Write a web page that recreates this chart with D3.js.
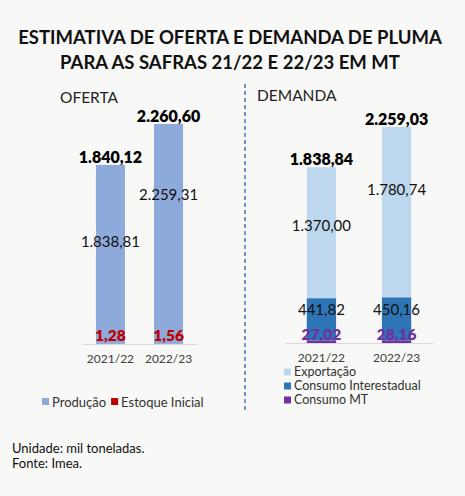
<!DOCTYPE html>
<html><head><meta charset="utf-8">
<script src="https://cdn.jsdelivr.net/npm/d3@7"></script>
<style>
html,body{margin:0;padding:0;background:#f8f8f6;}
svg{display:block;font-family:Lato, "Open Sans", sans-serif;}
</style></head>
<body>
<svg id="c" width="465" height="496"></svg>
<script>
// ---- data ----
const years = ["2021/22", "2022/23"];
const producao = [1838.81, 2259.31];
const estoqueInicial = [1.28, 1.56];
const ofertaTotal = [1840.12, 2260.60];
const consumoMT = [27.02, 28.16];
const consumoInterestadual = [441.82, 450.16];
const exportacao = [1370.00, 1780.74];
const demandaTotal = [1838.84, 2259.03];
const ofertaLabels = ["1,28", "1,56"];
const producaoLabels = ["1.838,81", "2.259,31"];
const ofertaTotalLabels = ["1.840,12", "2.260,60"];
const mtLabels = ["27,02", "28,16"];
const interLabels = ["441,82", "450,16"];
const exportLabels = ["1.370,00", "1.780,74"];
const demandaTotalLabels = ["1.838,84", "2.259,03"];

const svg = d3.select("#c");
const fmtFont = "Lato, 'Open Sans', sans-serif";

// title
svg.append("text").attr("x", 230).attr("y", 44).attr("text-anchor", "middle")
  .attr("font-size", 18.5).attr("font-weight", 700).attr("fill", "#111")
  .text("ESTIMATIVA DE OFERTA E DEMANDA DE PLUMA");
svg.append("text").attr("x", 230).attr("y", 69).attr("text-anchor", "middle")
  .attr("font-size", 18.5).attr("font-weight", 700).attr("fill", "#111")
  .text("PARA AS SAFRAS 21/22 E 22/23 EM MT");

// ---------- OFERTA ----------
const xL = d3.scaleBand().domain(years).range([82, 197]).paddingInner(0.5).paddingOuter(0.24);
const yL = d3.scaleLinear().domain([0, 2260.60]).range([344, 124]);

svg.append("text").attr("x", 60).attr("y", 103).attr("font-size", 15.5).attr("fill", "#222").text("OFERTA");

const gL = svg.append("g");
years.forEach((yr, i) => {
  const base = estoqueInicial[i];
  gL.append("rect").attr("x", xL(yr)).attr("width", xL.bandwidth())
    .attr("y", yL(base)).attr("height", yL(0) - yL(base)).attr("fill", "#c00000");
  gL.append("rect").attr("x", xL(yr)).attr("width", xL.bandwidth())
    .attr("y", yL(base + producao[i])).attr("height", yL(base) - yL(base + producao[i])).attr("fill", "#8eaadb");
});
svg.append("g").attr("transform", `translate(0,${yL(0)})`)
  .call(d3.axisBottom(xL).tickSize(0).tickPadding(10))
  .call(g => g.select(".domain").attr("stroke", "#d9d9d9").attr("stroke-width", 1.2))
  .call(g => g.selectAll("text").attr("font-size", 12).attr("fill", "#404040").attr("font-family", fmtFont));

const prodFrac = [0.57, 0.68];
years.forEach((yr, i) => {
  const cx = xL(yr) + xL.bandwidth() / 2;
  svg.append("text").attr("x", cx).attr("y", yL(ofertaTotal[i]) - 2).attr("text-anchor", "middle")
    .attr("font-size", 16).attr("font-weight", 800).attr("fill", "#000").text(ofertaTotalLabels[i]);
  svg.append("text").attr("x", cx).attr("y", yL(estoqueInicial[i] + producao[i] * prodFrac[i])).attr("dy", "0.35em")
    .attr("text-anchor", "middle").attr("font-size", 15).attr("fill", "#111").text(producaoLabels[i]);
  svg.append("text").attr("x", cx).attr("y", yL(0) - 3).attr("text-anchor", "middle")
    .attr("font-size", 15.5).attr("font-weight", 800).attr("fill", "#c00000").text(ofertaLabels[i]);
});

// legend left
const legL = [["Produção", "#8eaadb"], ["Estoque Inicial", "#c00000"]];
let lx = 42;
legL.forEach(([t, c]) => {
  svg.append("rect").attr("x", lx).attr("y", 398).attr("width", 7).attr("height", 7).attr("fill", c);
  const tx = svg.append("text").attr("x", lx + 10).attr("y", 406.5).attr("font-size", 13).attr("fill", "#333").text(t);
  lx += 10 + tx.node().getComputedTextLength() + 5;
});

// divider
svg.append("line").attr("x1", 245).attr("x2", 245).attr("y1", 84).attr("y2", 412)
  .attr("stroke", "#4472c4").attr("stroke-width", 1.5).attr("stroke-dasharray", "4,3");

// ---------- DEMANDA ----------
const xR = d3.scaleBand().domain(years).range([285, 433]).paddingInner(0.61).paddingOuter(0.29);
const yR = d3.scaleLinear().domain([0, 2259.03]).range([343, 127]);

svg.append("text").attr("x", 257).attr("y", 101).attr("font-size", 15.5).attr("fill", "#222").text("DEMANDA");

const colors = ["#7030a0", "#2e75b6", "#bdd7ee"];
const keys = ["mt", "inter", "exp"];
const rows = years.map((yr, i) => ({yr, mt: consumoMT[i], inter: consumoInterestadual[i], exp: exportacao[i]}));
const stacked = d3.stack().keys(keys)(rows);
const gR = svg.append("g");
stacked.forEach((s, k) => {
  gR.selectAll(null).data(s).enter().append("rect")
    .attr("x", d => xR(d.data.yr)).attr("width", xR.bandwidth())
    .attr("y", d => yR(d[1])).attr("height", d => yR(d[0]) - yR(d[1]))
    .attr("fill", colors[k]);
});
svg.append("g").attr("transform", `translate(0,${yR(0)})`)
  .call(d3.axisBottom(xR).tickSize(0).tickPadding(10))
  .call(g => g.select(".domain").attr("stroke", "#d9d9d9").attr("stroke-width", 1.2))
  .call(g => g.selectAll("text").attr("font-size", 12).attr("fill", "#404040").attr("font-family", fmtFont));

const expFrac = [0.55, 0.63];
const interFrac = [0.72, 0.70];
years.forEach((yr, i) => {
  const cx = xR(yr) + xR.bandwidth() / 2;
  const b1 = consumoMT[i], b2 = b1 + consumoInterestadual[i];
  svg.append("text").attr("x", cx).attr("y", yR(demandaTotal[i]) - 2).attr("text-anchor", "middle")
    .attr("font-size", 16).attr("font-weight", 800).attr("fill", "#000").text(demandaTotalLabels[i]);
  svg.append("text").attr("x", cx).attr("y", yR(b2 + exportacao[i] * expFrac[i])).attr("dy", "0.35em")
    .attr("text-anchor", "middle").attr("font-size", 15).attr("fill", "#111").text(exportLabels[i]);
  svg.append("text").attr("x", cx).attr("y", yR(b1 + consumoInterestadual[i] * interFrac[i])).attr("dy", "0.35em")
    .attr("text-anchor", "middle").attr("font-size", 15).attr("fill", "#111").text(interLabels[i]);
  svg.append("text").attr("x", cx).attr("y", yR(0) - 3).attr("text-anchor", "middle")
    .attr("font-size", 15.5).attr("font-weight", 800).attr("fill", "#7030a0").text(mtLabels[i]);
});

// legend right
const legR = [["Exportação", "#bdd7ee"], ["Consumo Interestadual", "#2e75b6"], ["Consumo MT", "#7030a0"]];
legR.forEach(([t, c], i) => {
  const yy = 372 + i * 14;
  svg.append("rect").attr("x", 284).attr("y", yy - 3.5).attr("width", 7).attr("height", 7).attr("fill", c);
  svg.append("text").attr("x", 294).attr("y", yy).attr("dy", "0.35em").attr("font-size", 12.5).attr("fill", "#333").text(t);
});

// footer
svg.append("text").attr("x", 12).attr("y", 448).attr("dy", "0.35em").attr("font-size", 13).attr("fill", "#111").text("Unidade: mil toneladas.");
svg.append("text").attr("x", 12).attr("y", 463).attr("dy", "0.35em").attr("font-size", 13).attr("fill", "#111").text("Fonte: Imea.");
</script>
</body></html>
